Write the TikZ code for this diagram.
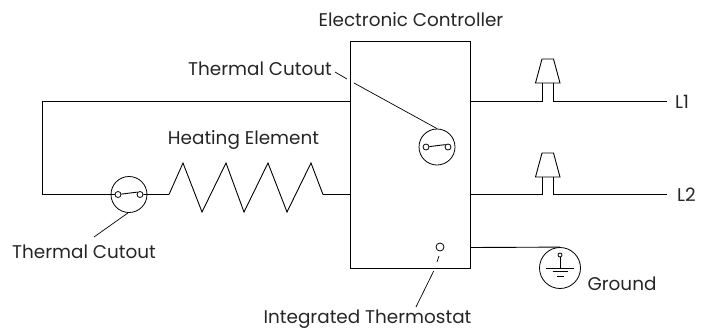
\documentclass[tikz,border=0pt]{standalone}
\usepackage{fontspec}
\setmainfont{Poppins}
\tikzset{
  wire/.style={line width=0.9pt,line join=miter},
  lbl/.style={inner sep=0pt,font=\fontsize{18.4}{20}\selectfont,text=black!85},
  swcircle/.style={circle,draw,line width=0.8pt,inner sep=0pt,minimum size=36pt},
  contact/.style={circle,draw,line width=0.8pt,inner sep=0pt,minimum size=6pt},
  fine/.style={line width=0.7pt}
}
\begin{document}
\begin{tikzpicture}[x=1pt,y=-1pt]
\useasboundingbox (0,0) rectangle (705,330);
% controller
\node[draw,wire,inner sep=0pt,minimum width=119.5pt,minimum height=227pt] (ctrl) at (410.25,154.5) {};
% labels
\node[lbl] (tec) at (411,20) {Electronic Controller};
\node[lbl] (ttc) at (260,69) {Thermal Cutout};
\node[lbl] (the) at (243.5,140) {Heating Element};
\node[lbl] (tbc) at (84,252) {Thermal Cutout};
\node[lbl] (tit) at (367.5,319) {Integrated Thermostat};
\node[lbl] (tgr) at (622,284) {Ground};
\node[lbl,anchor=west] (tl1) at (675,102) {L1};
\node[lbl,anchor=west] (tl2) at (677,195) {L2};
% lower cutout
\node[swcircle] (c1) at (129,194.5) {};
\node[contact] (c1a) at (118,194.5) {};
\node[contact] (c1b) at (140,194.5) {};
\draw[wire] (c1a) -- (c1b.north west);
% upper cutout
\node[swcircle] (c2) at (437,147) {};
\node[contact] (c2a) at (426,147) {};
\node[contact] (c2b) at (448,147) {};
\draw[wire] (c2a) -- (c2b.north west);
% left loop
\coordinate (tlw) at (350.5,101);
\coordinate (lt) at (42.5,101);
\coordinate (lb) at (42.5,194.5);
\draw[wire] (tlw) -- (lt) -- (lb) -- (c1a);
\draw[wire] (c1b) -- (169,194.5) -- (183,163) -- (202,212) -- (226,163) -- (244,212) -- (268,163) -- (287,212) -- (311,163) -- (323,194.5) -- (350.5,194.5);
% leaders
\coordinate (ll1) at (94,237);
\draw[fine] (c1.south) ++(-1,0) -- (ll1);
\coordinate (ll2a) at (335,72);
\coordinate (ll2b) at (347,79);
\draw[fine] (ll2a) -- (ll2b);
\coordinate (ll3) at (354,83);
\draw[fine] (ll3) -- (c2.north);
% fuses and lines
\coordinate (r1) at (470,101);
\coordinate (r2) at (470,194.5);
\draw[wire] (r1) -- (542,101) -- (542,83);
\draw[wire] (553.5,83) -- (553.5,101) -- (667,101);
\draw[wire] (535.5,83) -- (542,59) -- (553.5,59) -- (560,83) -- cycle;
\draw[wire] (r2) -- (542,194.5) -- (542,177);
\draw[wire] (553.5,177) -- (553.5,194.5) -- (667,194.5);
\draw[wire] (535.5,177) -- (542,153) -- (553.5,153) -- (560,177) -- cycle;
% ground
\node[circle,draw,line width=0.8pt,inner sep=0pt,minimum size=41pt] (gnd) at (560,268) {};
\draw[wire] (470,247.5) -- (gnd.north);
\node[contact,minimum size=4pt] (gt) at (560,255) {};
\draw[fine] (gt) -- (560,268);
\draw[fine] (546,268) -- (574,268);
\draw[fine] (552.5,271.5) -- (567.5,271.5);
\draw[fine] (557,276) -- (564,276);
% thermostat
\node[contact,minimum size=8pt] (th) at (440,247) {};
\draw[fine] (439,256) -- (437,262);
\draw[fine] (433.7,271) -- (416,307);
\end{tikzpicture}
\end{document}
